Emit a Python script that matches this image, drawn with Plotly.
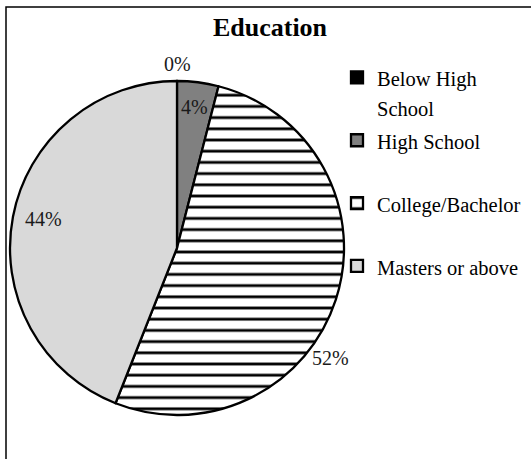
import math
import plotly.graph_objects as go

# ---- data ----
categories = ["Below High School", "High School", "College/Bachelor", "Masters or above"]
values = [0, 4, 52, 44]
title_text = "Education"

# ---- style ----
fill_colors = ["#000000", "#808080", "#ffffff", "#d9d9d9"]
pattern_shapes = ["", "", "-", ""]
legend_wrap = {"Below High School": "Below High<br>School"}
# label placement: (fraction along slice arc, radius factor)
label_place = [(0.5, 1.10), (0.5, 0.85), (0.595, 1.13), (0.51, 0.82)]
FONT = "Liberation Serif"

W, H = 531, 459
CX, CY, R = 177, 248, 167  # pie centre / radius in pixels

total = sum(values)
pct_text = [f"{round(v / total * 100)}%" for v in values]

legend_labels = []
for c in categories:
    lab = legend_wrap.get(c, c + "<br> ")
    legend_labels.append(f"<span style='font-size:20.5px'>{lab}</span>")

fig = go.Figure(
    go.Pie(
        labels=legend_labels,
        values=values,
        sort=False,
        direction="clockwise",
        rotation=0,
        textinfo="none",
        hovertext=categories,
        hoverinfo="text+percent",
        marker=dict(
            colors=fill_colors,
            line=dict(color="#000000", width=2.3),
            pattern=dict(
                shape=pattern_shapes,
                fgcolor="#000000",
                bgcolor="#ffffff",
                size=11.2,
                solidity=0.25,
            ),
        ),
        domain=dict(
            x=[(CX - R) / W, (CX + R) / W],
            y=[(H - CY - R) / H, (H - CY + R) / H],
        ),
    )
)

# percentage labels placed from the cumulative angles
annotations = []
cum = 0.0
for v, txt, (frac, rf) in zip(values, pct_text, label_place):
    start = cum / total * 360
    end = (cum + v) / total * 360
    cum += v
    ang = math.radians(start + frac * (end - start))
    px = CX + rf * R * math.sin(ang)
    py = CY - rf * R * math.cos(ang)
    annotations.append(
        dict(
            x=px / W, y=1 - py / H, xref="paper", yref="paper",
            text=txt, showarrow=False, xanchor="center", yanchor="middle",
            font=dict(family=FONT, size=20, color="#1a1a1a"),
        )
    )

fig.update_layout(
    width=W, height=H,
    margin=dict(l=0, r=0, t=0, b=0),
    paper_bgcolor="#ffffff",
    plot_bgcolor="#ffffff",
    title=dict(
        text=f"<b>{title_text}</b>",
        x=270 / W, y=1 - 27 / H, xanchor="center", yanchor="middle",
        font=dict(family=FONT, size=26, color="#000000"),
    ),
    legend=dict(
        x=337 / W, y=1 - 56 / H, xanchor="left", yanchor="top",
        font=dict(family=FONT, size=23, color="#000000"),
        valign="top",
        traceorder="normal",
        bgcolor="rgba(0,0,0,0)",
    ),
    annotations=annotations,
    shapes=[
        dict(
            type="rect", xref="paper", yref="paper",
            x0=6 / W, x1=1.05, y0=-0.05, y1=1 - 7 / H,
            line=dict(color="#000000", width=1.5),
            fillcolor="rgba(0,0,0,0)", layer="below",
        )
    ],
)

fig.write_html(
    "out.html",
    config={"displayModeBar": False},
    post_script="document.body.style.margin='0px';",
)
